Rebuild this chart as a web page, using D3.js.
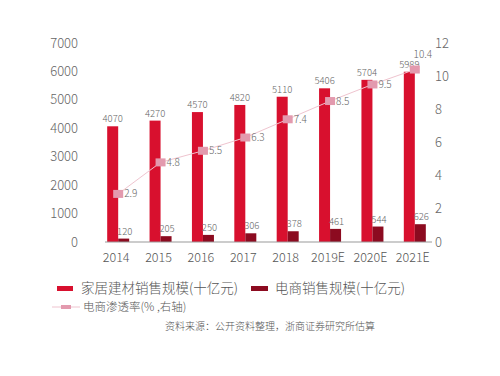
<!DOCTYPE html>
<html>
<head>
<meta charset="utf-8">
<script src="https://cdn.jsdelivr.net/npm/d3@7"></script>
<style>
  body { margin: 0; background: #fff; }
  text { font-family: "Noto Sans CJK SC", "Noto Sans", sans-serif; font-weight: 300; }
</style>
</head>
<body>
<div id="chart"></div>
<script>
// data
const years = ["2014", "2015", "2016", "2017", "2018", "2019E", "2020E", "2021E"];
const homeSales = [4070, 4270, 4570, 4820, 5110, 5406, 5704, 5989];
const onlineSales = [120, 205, 250, 306, 378, 461, 544, 626];
const penetration = [2.9, 4.8, 5.5, 6.3, 7.4, 8.5, 9.5, 10.4];
const leftTicks = [0, 1000, 2000, 3000, 4000, 5000, 6000, 7000];
const rightTicks = [0, 2, 4, 6, 8, 10, 12];

const W = 500, H = 376;
const red = "#d8102e", darkRed = "#8c0b20", pink = "#e39aae", pinkLine = "#efc4cf";

const svg = d3.select("#chart").append("svg")
  .attr("width", W)
  .attr("height", H);

const x = d3.scaleBand().domain(years).range([97, 436]);
const yL = d3.scaleLinear().domain([0, 7000]).range([242, 43]);
const yR = d3.scaleLinear().domain([0, 12]).range([242, 43]);
const barW = 11;

// left axis labels
svg.append("g")
  .selectAll("text")
  .data(leftTicks)
  .join("text")
  .attr("x", 78)
  .attr("y", d => yL(d))
  .attr("dy", "0.35em")
  .attr("text-anchor", "end")
  .attr("font-size", "13px")
  .attr("fill", "#666")
  .text(d => d);

// right axis labels
svg.append("g")
  .selectAll("text")
  .data(rightTicks)
  .join("text")
  .attr("x", 435)
  .attr("y", d => yR(d))
  .attr("dy", "0.35em")
  .attr("text-anchor", "start")
  .attr("font-size", "13px")
  .attr("fill", "#666")
  .text(d => d);

// bars
const groups = svg.append("g")
  .selectAll("g")
  .data(years)
  .join("g")
  .attr("transform", d => `translate(${x(d) + x.bandwidth() / 2},0)`);

groups.append("rect")
  .attr("x", -barW)
  .attr("width", barW)
  .attr("y", (d, i) => yL(homeSales[i]))
  .attr("height", (d, i) => yL(0) - yL(homeSales[i]))
  .attr("fill", red);

groups.append("rect")
  .attr("x", 0)
  .attr("width", barW)
  .attr("y", (d, i) => yL(onlineSales[i]))
  .attr("height", (d, i) => yL(0) - yL(onlineSales[i]))
  .attr("fill", darkRed);

groups.append("text")
  .attr("x", -barW / 2)
  .attr("y", (d, i) => yL(homeSales[i]) - 4)
  .attr("text-anchor", "middle")
  .attr("font-size", "9.5px")
  .attr("fill", "#666")
  .text((d, i) => homeSales[i]);

groups.append("text")
  .attr("x", barW / 2 + 1)
  .attr("y", (d, i) => yL(onlineSales[i]) - 4)
  .attr("text-anchor", "middle")
  .attr("font-size", "9.5px")
  .attr("fill", "#666")
  .text((d, i) => onlineSales[i]);

// x axis
svg.append("line")
  .attr("x1", 105).attr("x2", 432)
  .attr("y1", yL(0)).attr("y2", yL(0))
  .attr("stroke", "#999")
  .attr("stroke-width", 1);

svg.append("g")
  .selectAll("text")
  .data(years)
  .join("text")
  .attr("x", d => x(d) + x.bandwidth() / 2 - 2)
  .attr("y", 258)
  .attr("dy", "0.35em")
  .attr("text-anchor", "middle")
  .attr("font-size", "12.5px")
  .attr("fill", "#555")
  .text(d => d);

// penetration line
const cx = d => x(d) + x.bandwidth() / 2;
const line = d3.line()
  .x((d, i) => cx(years[i]))
  .y(d => yR(d));

svg.append("path")
  .datum(penetration)
  .attr("d", line)
  .attr("fill", "none")
  .attr("stroke", pinkLine)
  .attr("stroke-width", 1);

svg.append("g")
  .selectAll("rect")
  .data(penetration)
  .join("rect")
  .attr("x", (d, i) => cx(years[i]) - 5)
  .attr("y", d => yR(d) - 4)
  .attr("width", 10)
  .attr("height", 8)
  .attr("fill", pink);

const last = penetration.length - 1;
svg.append("g")
  .selectAll("text")
  .data(penetration)
  .join("text")
  .attr("x", (d, i) => i === last ? cx(years[i]) + 8 : cx(years[i]) + 6)
  .attr("y", (d, i) => i === last ? yR(d) - 15 : yR(d))
  .attr("dy", "0.35em")
  .attr("text-anchor", (d, i) => i === last ? "middle" : "start")
  .attr("font-size", "10px")
  .attr("fill", "#666")
  .text(d => d);

// legend
const leg = svg.append("g");
leg.append("rect").attr("x", 57).attr("y", 286).attr("width", 16).attr("height", 5).attr("fill", red);
leg.append("text").attr("x", 81).attr("y", 288).attr("dy", "0.35em")
  .attr("font-size", "13.5px").attr("fill", "#555").text("家居建材销售规模(十亿元)");
leg.append("rect").attr("x", 251).attr("y", 286).attr("width", 17).attr("height", 5).attr("fill", darkRed);
leg.append("text").attr("x", 275).attr("y", 288).attr("dy", "0.35em")
  .attr("font-size", "13.5px").attr("fill", "#555").text("电商销售规模(十亿元)");
leg.append("line").attr("x1", 52).attr("x2", 80).attr("y1", 307).attr("y2", 307)
  .attr("stroke", pinkLine).attr("stroke-width", 1);
leg.append("rect").attr("x", 61).attr("y", 305).attr("width", 10).attr("height", 4).attr("fill", pink);
leg.append("text").attr("x", 83).attr("y", 307).attr("dy", "0.35em")
  .attr("font-size", "11.5px").attr("fill", "#555").text("电商渗透率(% ,右轴)");

svg.append("text")
  .attr("x", 270).attr("y", 326).attr("dy", "0.35em")
  .attr("text-anchor", "middle")
  .attr("font-size", "10px").attr("fill", "#555")
  .text("资料来源：公开资料整理，浙商证券研究所估算");
</script>
</body>
</html>
